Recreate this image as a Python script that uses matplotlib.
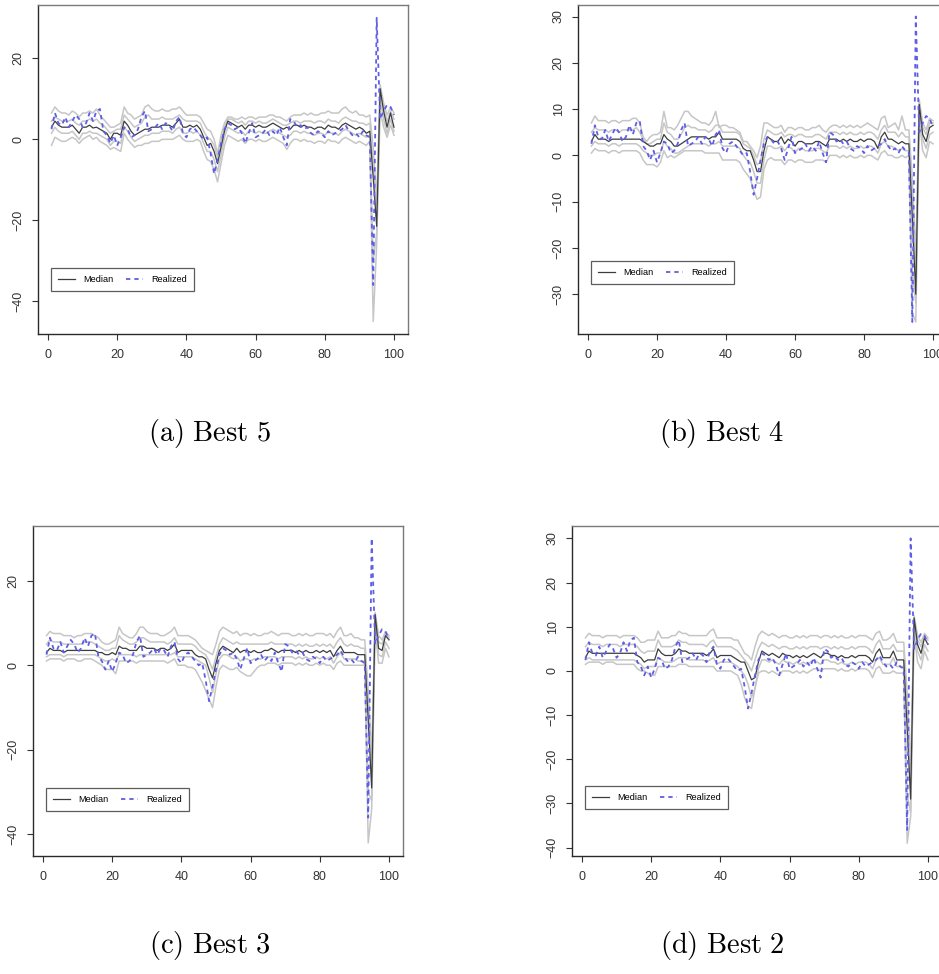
import numpy as np
import matplotlib
matplotlib.use("Agg")
import matplotlib.pyplot as plt
from matplotlib.lines import Line2D

plt.rcParams['font.family'] = ['Liberation Sans', 'DejaVu Sans']
plt.rcParams['mathtext.fontset'] = 'cm'

x = np.arange(1, 101)

# realized series (same in every panel)
realized = [2.5, 6.5, 4.0, 3.5, 5.5, 3.0, 4.5, 6.0, 5.0, 3.0,
            4.0, 6.5, 4.5, 7.0, 7.5, 2.0, 1.0, -1.0, 1.0, -1.5,
            0.5, 3.0, 2.5, 0.5, 1.0, 2.5, 5.5, 7.0, 2.0, 2.5,
            3.0, 4.0, 2.5, 4.0, 3.5, 2.0, 4.5, 5.5, 1.5, 0.5,
            2.5, 3.0, 2.0, 1.0, 0.0, 0.5, -3.5, -8.5, -5.0, -1.0,
            2.5, 4.0, 3.5, 2.5, 3.0, 1.5, -1.0, 1.5, 4.0, 0.5,
            1.0, 1.5, 2.5, 1.0, 2.0, 1.0, 3.0, 0.5, -1.5, 5.0,
            4.5, 3.0, 3.5, 2.5, 3.0, 1.5, 1.0, 2.0, 1.5, 0.5,
            2.0, 1.0, 1.5, 2.0, 2.5, 3.5, 2.0, 1.0, 1.5, 0.5,
            2.0, 1.0, 0.5, -36.0, 30.0, 5.0, 7.0, 8.5, 8.0, 6.0]

# (a) Best 5
med_a = [3.0, 4.5, 3.5, 3.0, 3.0, 3.0, 3.5, 2.5, 1.5, 3.0,
         3.0, 3.5, 2.8, 3.0, 2.5, 2.0, 1.5, 0.0, 1.5, 1.5,
         1.0, 4.5, 3.5, 2.0, 1.0, 1.5, 2.0, 2.5, 2.5, 3.0,
         3.0, 3.0, 3.5, 3.5, 3.5, 3.0, 4.0, 5.0, 3.0, 3.0,
         3.5, 3.0, 3.5, 2.5, 0.5, -1.5, -1.0, -3.0, -6.0, -2.0,
         2.0, 4.5, 4.0, 3.5, 3.0, 3.5, 2.5, 3.5, 3.5, 3.0,
         3.5, 3.0, 3.0, 3.5, 4.0, 3.5, 3.0, 2.5, 3.0, 2.5,
         3.5, 3.5, 3.0, 3.5, 3.0, 3.0, 2.5, 3.0, 3.0, 2.5,
         3.5, 3.0, 3.0, 2.5, 3.5, 4.0, 3.5, 3.0, 2.5, 3.0,
         2.5, 1.5, 2.0, -9.5, -21.5, 12.5, 7.0, 3.0, 6.5, 3.0]
hi2_a = [6.5, 8.0, 7.0, 6.5, 6.5, 6.0, 7.0, 6.5, 5.5, 6.5,
         6.5, 7.0, 6.5, 7.5, 6.0, 5.0, 4.0, 3.0, 3.0, 3.5,
         4.0, 8.0, 6.5, 6.0, 5.0, 5.5, 6.0, 8.0, 8.5, 7.5,
         7.0, 7.0, 7.5, 7.0, 7.0, 7.5, 7.5, 8.0, 7.0, 6.0,
         6.0, 6.0, 6.0, 5.5, 4.0, 2.5, 2.0, 0.0, -3.5, 1.0,
         4.0, 5.5, 5.5, 5.0, 5.0, 5.5, 5.0, 5.5, 5.5, 5.0,
         5.5, 5.5, 5.5, 6.0, 6.0, 5.5, 5.5, 5.0, 4.5, 5.5,
         6.0, 6.0, 6.0, 6.5, 6.0, 6.5, 6.0, 6.0, 6.5, 6.5,
         7.0, 6.5, 6.5, 6.5, 7.5, 8.0, 7.0, 6.5, 7.0, 6.0,
         6.0, 5.5, 6.0, -2.0, -15.0, 13.5, 9.0, 6.0, 8.0, 6.5]
hi1_a = [4.5, 5.5, 5.0, 4.5, 4.5, 4.5, 5.0, 4.0, 3.5, 4.5,
         4.5, 5.0, 4.5, 5.0, 4.0, 3.5, 2.5, 1.5, 2.0, 2.5,
         2.5, 6.0, 5.0, 4.0, 3.0, 3.5, 4.0, 5.5, 6.0, 5.0,
         5.0, 5.0, 5.5, 5.0, 5.0, 5.0, 5.5, 6.0, 5.0, 4.5,
         4.5, 4.5, 4.5, 4.0, 2.0, 0.5, 0.0, -1.5, -4.5, -0.5,
         3.0, 5.0, 5.0, 4.5, 4.0, 4.5, 3.5, 4.5, 4.5, 4.0,
         4.5, 4.0, 4.0, 4.5, 5.0, 4.5, 4.0, 3.5, 3.5, 4.0,
         4.5, 4.5, 4.0, 4.5, 4.5, 4.5, 4.0, 4.5, 4.5, 4.0,
         5.0, 4.5, 4.5, 4.0, 5.0, 5.5, 5.0, 4.5, 4.5, 4.0,
         4.0, 3.5, 4.0, -6.0, -19.0, 12.0, 8.0, 4.5, 7.0, 5.0]
lo1_a = [1.5, 3.0, 2.0, 1.5, 1.5, 1.5, 2.0, 1.0, 0.0, 1.5,
         1.5, 2.0, 1.5, 1.5, 1.0, 0.5, 0.0, -1.5, -0.5, -0.5,
         -1.0, 3.0, 2.0, 0.5, -0.5, 0.0, 0.5, 1.0, 1.0, 1.5,
         1.5, 1.5, 2.0, 2.0, 2.0, 1.5, 2.5, 3.0, 1.5, 1.5,
         2.0, 1.5, 2.0, 1.0, -1.0, -3.0, -3.0, -5.0, -8.0, -4.0,
         0.5, 3.0, 2.5, 2.0, 1.5, 2.0, 1.0, 2.0, 2.0, 1.5,
         2.0, 1.5, 1.5, 2.0, 2.5, 2.0, 1.5, 1.0, 0.5, 1.0,
         2.0, 2.0, 1.5, 2.0, 1.5, 1.5, 1.0, 1.5, 1.5, 1.0,
         2.0, 1.5, 1.5, 1.0, 2.0, 2.5, 2.0, 1.5, 1.0, 1.5,
         1.0, 0.5, 1.0, -30.0, -23.0, 10.0, 5.0, 1.5, 5.0, 2.0]
lo2_a = [-1.5, 0.5, 0.0, -0.5, -0.5, 0.0, 0.5, 0.0, -1.0, 0.0,
         0.5, 1.0, 0.0, 0.5, -0.5, -1.0, -1.5, -2.5, -2.0, -2.5,
         -3.0, 1.5, 0.0, -1.0, -2.0, -1.5, -1.5, -1.0, -1.0, -0.5,
         -0.5, -0.5, 0.0, 0.0, 0.0, 0.0, 0.5, 1.0, 0.0, -0.5,
         -0.5, -0.5, 0.0, -0.5, -3.0, -5.0, -5.5, -7.5, -10.5, -6.0,
         -1.5, 1.0, 0.5, 0.0, -0.5, 0.0, -1.0, 0.0, 0.0, -0.5,
         0.0, -0.5, -0.5, 0.0, 0.5, 0.0, -0.5, -1.0, -2.5, -1.0,
         0.0, 0.0, -0.5, 0.0, -0.5, -0.5, -1.0, -0.5, -0.5, -1.0,
         0.0, -0.5, -0.5, -1.0, 0.0, 0.5, 0.0, -0.5, -1.0, -0.5,
         -1.0, -1.5, -0.5, -45.0, -26.0, 7.0, 3.0, 0.5, 3.5, 1.0]

# (b) Best 4
med_b = [3.0, 4.5, 3.5, 3.5, 3.5, 3.0, 3.5, 3.5, 3.5, 3.5,
         3.5, 3.5, 3.5, 3.5, 3.5, 3.0, 2.5, 2.0, 2.0, 2.5,
         2.5, 4.5, 3.5, 3.0, 2.0, 2.0, 2.5, 3.0, 3.5, 4.0,
         4.0, 4.0, 4.0, 4.0, 3.5, 4.0, 4.0, 5.0, 3.5, 3.5,
         3.5, 3.5, 3.5, 3.0, 1.5, 1.0, 1.0, -1.0, -3.5, -3.5,
         1.0, 4.0, 3.5, 3.0, 3.0, 4.0, 2.5, 3.5, 3.0, 2.0,
         3.0, 3.0, 2.5, 2.5, 2.5, 3.0, 3.0, 2.5, 2.0, 3.5,
         3.5, 3.5, 3.0, 3.5, 3.0, 3.5, 3.0, 3.0, 3.5, 3.0,
         3.5, 3.5, 3.0, 1.5, 4.0, 5.0, 3.5, 3.5, 3.0, 2.5,
         3.0, 2.5, 2.5, -13.5, -30.0, 11.0, 4.5, 3.0, 6.0, 6.5]
hi2_b = [7.0, 8.5, 7.5, 7.5, 7.5, 7.0, 7.5, 7.5, 7.0, 7.5,
         7.5, 7.5, 8.0, 8.0, 7.0, 4.0, 3.0, 4.0, 4.5, 4.5,
         5.0, 9.5, 6.0, 6.0, 5.5, 6.5, 8.0, 9.5, 9.5, 8.5,
         8.0, 7.5, 7.0, 7.0, 6.5, 7.5, 9.5, 6.0, 6.5, 6.5,
         6.0, 6.0, 5.5, 5.0, 3.0, 3.0, 2.0, 1.0, -0.5, 2.0,
         7.0, 7.0, 6.5, 6.0, 6.0, 6.5, 5.0, 6.0, 6.0, 5.5,
         6.0, 6.0, 5.5, 5.5, 6.0, 6.0, 6.5, 5.5, 5.0, 6.0,
         6.5, 6.5, 6.0, 6.5, 6.0, 6.5, 6.0, 6.5, 6.0, 6.5,
         7.0, 6.5, 6.0, 5.5, 8.0, 8.5, 6.0, 6.5, 7.0, 5.5,
         8.5, 5.5, 5.5, -5.0, -22.0, 12.0, 7.0, 5.5, 8.0, 7.5]
hi1_b = [5.0, 6.0, 5.5, 5.5, 5.5, 5.0, 5.5, 5.5, 5.0, 5.5,
         5.5, 5.5, 5.5, 6.0, 5.0, 3.5, 2.5, 2.5, 3.0, 3.5,
         3.5, 7.0, 5.0, 4.5, 3.5, 3.5, 4.5, 6.0, 6.5, 6.0,
         6.0, 5.5, 5.5, 5.5, 5.0, 5.5, 6.5, 6.5, 5.0, 5.0,
         5.0, 5.0, 5.0, 4.5, 2.5, 2.0, 1.5, 0.0, -2.0, -1.5,
         3.5, 5.5, 5.0, 4.5, 4.5, 5.0, 4.0, 4.5, 4.5, 4.0,
         4.5, 4.5, 4.0, 4.0, 4.0, 4.5, 4.5, 4.0, 3.5, 5.0,
         5.0, 5.0, 4.5, 5.0, 4.5, 5.0, 4.5, 4.5, 5.0, 4.5,
         5.0, 5.0, 4.5, 3.5, 5.5, 6.5, 5.0, 5.0, 5.0, 4.0,
         5.0, 4.0, 4.0, -8.0, -26.0, 11.5, 6.0, 4.5, 7.0, 7.0]
lo1_b = [2.0, 3.0, 2.5, 2.5, 2.5, 2.0, 2.5, 2.5, 2.0, 2.5,
         2.5, 2.5, 2.5, 2.5, 2.0, 1.0, 0.5, 0.0, 0.0, 0.5,
         0.5, 3.0, 2.0, 1.5, 0.5, 0.5, 1.0, 1.5, 2.0, 2.5,
         2.5, 2.5, 2.5, 2.5, 2.0, 2.5, 2.5, 3.0, 2.0, 2.0,
         2.0, 2.0, 2.0, 1.5, 0.0, -1.0, -1.5, -3.5, -6.0, -6.0,
         -1.0, 2.0, 2.0, 1.5, 1.5, 2.0, 1.0, 2.0, 1.5, 0.5,
         1.5, 1.5, 1.0, 1.0, 1.0, 1.5, 1.5, 1.0, 0.5, 2.0,
         2.0, 2.0, 1.5, 2.0, 1.5, 2.0, 1.5, 1.5, 2.0, 1.5,
         2.0, 2.0, 1.5, 0.5, 2.5, 3.0, 2.0, 2.0, 1.5, 1.0,
         1.5, 1.0, 1.0, -25.0, -32.0, 10.0, 3.5, 1.5, 4.5, 5.0]
lo2_b = [0.5, 1.5, 1.0, 1.0, 1.0, 0.5, 1.0, 1.0, 0.5, 1.0,
         1.0, 1.0, 1.0, 1.0, 0.5, -1.0, -2.0, -2.0, -2.0, -2.5,
         -1.5, 1.0, -0.5, 0.0, -0.5, 0.0, 0.5, 1.0, 1.0, 1.0,
         1.0, 1.0, 1.0, 0.5, 0.5, 0.5, 0.5, 0.5, -1.0, -1.0,
         -1.0, -1.0, -1.0, -1.5, -3.0, -4.0, -5.0, -7.5, -9.5, -9.0,
         -3.0, -1.0, -0.5, -1.0, -1.0, -1.0, -2.0, -1.0, -1.0, -1.5,
         -1.0, -1.0, -1.5, -1.5, -1.5, -1.0, -1.0, -1.0, -1.5, 0.0,
         0.0, 0.0, -0.5, 0.0, -0.5, 0.0, -0.5, -0.5, 0.0, -0.5,
         0.0, 0.0, -0.5, -1.0, 0.5, 1.0, 0.0, 0.0, -0.5, -0.5,
         0.0, -0.5, 0.0, -34.0, -36.0, 8.0, 1.0, -0.5, 3.0, 2.5]

# (c) Best 3
med_c = [3.0, 4.0, 3.5, 3.5, 3.5, 3.0, 3.5, 3.5, 3.5, 3.5,
         3.5, 3.5, 3.5, 3.5, 3.5, 3.0, 3.0, 2.5, 2.5, 3.0,
         2.5, 4.5, 4.0, 4.0, 3.5, 3.5, 3.5, 4.5, 4.5, 4.0,
         4.0, 4.0, 3.5, 4.0, 4.0, 3.5, 4.0, 5.0, 3.0, 3.5,
         3.5, 3.5, 3.5, 2.5, 2.0, 2.0, 1.5, -1.0, -3.0, 0.5,
         3.5, 4.5, 4.0, 3.5, 3.0, 4.0, 3.0, 3.5, 3.5, 3.0,
         3.5, 3.0, 3.0, 3.5, 3.5, 4.0, 3.5, 3.0, 3.5, 3.5,
         3.5, 3.5, 3.0, 3.5, 3.0, 3.5, 3.0, 3.0, 3.5, 3.0,
         3.5, 3.0, 3.5, 2.0, 3.5, 4.5, 3.0, 3.0, 3.0, 3.0,
         2.5, 2.5, 2.5, -13.0, -29.0, 12.0, 4.0, 3.5, 7.0, 6.0]
hi2_c = [7.0, 8.0, 7.5, 7.5, 7.5, 7.0, 7.0, 7.0, 6.5, 7.0,
         7.0, 7.5, 7.5, 7.5, 7.0, 6.5, 5.5, 5.0, 5.0, 5.5,
         6.0, 9.0, 7.5, 7.0, 6.5, 6.5, 7.5, 9.0, 9.0, 8.0,
         7.5, 7.5, 7.5, 7.0, 7.0, 7.5, 8.0, 9.0, 7.0, 7.0,
         7.0, 7.0, 6.5, 6.0, 5.0, 4.0, 3.5, 3.0, 2.5, 5.0,
         8.0, 9.0, 8.5, 8.0, 7.5, 8.0, 7.0, 7.5, 7.5, 7.0,
         7.5, 7.0, 7.0, 7.5, 7.5, 8.0, 7.5, 7.0, 7.5, 7.5,
         7.5, 7.0, 7.0, 7.5, 7.0, 7.5, 7.0, 7.0, 7.5, 7.5,
         7.5, 7.0, 7.5, 6.5, 8.0, 9.0, 7.0, 7.0, 7.5, 6.5,
         6.5, 6.0, 6.0, -6.0, -22.0, 12.5, 7.0, 6.0, 8.0, 7.0]
hi1_c = [5.0, 6.0, 5.5, 5.5, 5.5, 5.0, 5.0, 5.0, 5.0, 5.0,
         5.0, 5.5, 5.5, 5.5, 5.0, 4.5, 4.0, 3.5, 3.5, 4.0,
         4.0, 7.0, 6.0, 5.5, 5.0, 5.0, 5.5, 6.5, 6.5, 6.0,
         5.5, 5.5, 5.5, 5.5, 5.5, 5.0, 5.5, 6.5, 5.0, 5.0,
         5.0, 5.0, 5.0, 4.5, 3.5, 3.0, 2.5, 1.0, -1.0, 2.0,
         5.0, 6.5, 6.0, 5.5, 5.0, 5.5, 5.0, 5.0, 5.0, 5.0,
         5.0, 5.0, 5.0, 5.0, 5.0, 5.5, 5.0, 5.0, 5.0, 5.0,
         5.0, 5.0, 4.5, 5.0, 4.5, 5.0, 4.5, 4.5, 5.0, 4.5,
         5.0, 4.5, 5.0, 4.0, 5.5, 6.5, 5.0, 4.5, 5.0, 4.5,
         4.5, 4.0, 4.0, -9.0, -25.0, 12.0, 5.5, 5.0, 7.5, 6.5]
lo1_c = [2.0, 2.5, 2.5, 2.5, 2.5, 2.0, 2.5, 2.5, 2.5, 2.5,
         2.5, 2.5, 2.5, 2.5, 2.5, 2.0, 1.5, 1.0, 1.0, 1.5,
         1.0, 2.5, 2.5, 2.5, 2.5, 2.5, 2.0, 2.5, 2.5, 2.5,
         2.5, 2.5, 2.5, 2.5, 2.5, 2.5, 2.5, 3.0, 2.0, 2.0,
         2.0, 2.0, 2.0, 1.5, 1.0, 0.5, 0.0, -3.0, -6.5, -2.0,
         1.5, 2.5, 2.5, 2.0, 1.5, 2.0, 1.0, 1.5, 1.5, 1.0,
         1.5, 1.5, 1.5, 2.0, 2.0, 2.0, 2.0, 1.5, 2.0, 2.0,
         2.0, 2.0, 1.5, 2.0, 1.5, 2.0, 1.5, 1.5, 2.0, 1.5,
         2.0, 1.5, 2.0, 0.5, 2.0, 3.0, 1.5, 1.5, 1.5, 1.5,
         1.0, 1.0, 1.0, -30.0, -32.0, 10.0, 2.5, 2.0, 5.5, 4.0]
lo2_c = [1.0, 1.5, 1.5, 1.5, 1.5, 1.0, 1.5, 1.5, 1.5, 1.0,
         1.0, 1.5, 1.5, 1.5, 1.0, 0.5, 0.0, -1.0, -1.0, -1.0,
         -2.0, 1.0, 1.0, 1.0, 1.0, 1.0, 0.5, 1.0, 1.0, 1.0,
         1.0, 1.0, 1.0, 1.0, 1.0, 0.5, 1.0, 1.5, 0.0, 0.0,
         0.0, -0.5, -0.5, -1.0, -2.5, -4.0, -6.0, -8.0, -10.0, -5.0,
         -1.0, 0.0, -0.5, -1.0, -1.0, -0.5, -1.5, -2.0, -2.5, -2.5,
         -1.5, -0.5, 0.0, 0.0, 0.5, 0.5, 0.5, 0.0, 0.5, 0.5,
         0.5, 0.5, 0.0, 0.5, 0.0, 0.5, 0.0, 0.0, 0.5, 0.0,
         0.5, 0.0, 0.0, -1.0, 0.5, 1.0, 0.0, 0.0, 0.0, 0.0,
         0.0, 0.0, 0.0, -42.0, -34.0, 8.5, 0.5, 0.5, 4.0, 2.0]

# (d) Best 2
med_d = [3.0, 4.5, 4.0, 4.0, 4.0, 4.0, 4.0, 4.0, 4.0, 4.0,
         4.0, 4.0, 4.0, 4.0, 4.0, 3.5, 3.0, 2.0, 2.5, 2.5,
         2.5, 5.0, 4.0, 3.5, 3.5, 3.5, 4.0, 5.0, 4.5, 4.5,
         4.0, 4.0, 4.0, 4.0, 4.0, 3.5, 4.0, 5.0, 3.0, 3.5,
         3.5, 3.5, 3.5, 3.0, 2.5, 2.0, 2.0, 0.0, -2.0, -1.5,
         2.0, 4.5, 4.0, 3.5, 4.0, 3.5, 3.0, 4.0, 3.5, 3.5,
         3.0, 3.5, 3.0, 3.5, 3.0, 3.5, 4.0, 3.5, 3.0, 4.0,
         4.0, 3.5, 3.5, 3.0, 3.5, 3.0, 3.0, 3.5, 3.0, 3.5,
         3.5, 3.5, 3.0, 2.0, 4.0, 5.0, 3.0, 3.0, 3.0, 4.5,
         2.5, 2.5, 2.5, -13.0, -29.0, 12.0, 6.0, 4.0, 7.5, 6.0]
hi2_d = [7.5, 8.5, 8.0, 8.0, 8.0, 7.5, 8.0, 8.0, 8.0, 8.0,
         7.5, 8.0, 8.0, 8.0, 8.0, 7.5, 6.5, 6.5, 7.0, 7.0,
         7.0, 9.0, 7.5, 7.5, 7.5, 8.0, 8.0, 9.0, 8.5, 8.5,
         8.0, 8.0, 8.0, 8.0, 8.0, 8.0, 9.0, 9.5, 7.5, 7.5,
         7.5, 7.5, 7.5, 7.0, 7.0, 5.5, 4.0, 3.5, 2.5, 5.5,
         8.0, 9.0, 8.5, 8.0, 8.5, 8.0, 7.5, 8.0, 8.0, 7.5,
         7.5, 8.0, 7.5, 8.0, 7.5, 8.0, 8.0, 8.0, 7.5, 8.0,
         8.0, 7.5, 8.0, 7.5, 8.0, 7.5, 7.5, 8.0, 7.5, 8.0,
         8.0, 8.0, 7.5, 7.0, 8.5, 9.0, 7.0, 7.0, 7.5, 8.5,
         6.5, 6.5, 6.5, -5.0, -22.0, 12.5, 8.0, 6.5, 8.5, 7.5]
hi1_d = [5.5, 6.5, 6.0, 6.0, 6.0, 5.5, 6.0, 6.0, 6.0, 6.0,
         5.5, 6.0, 6.0, 6.0, 6.0, 5.5, 4.5, 4.0, 4.5, 4.5,
         4.5, 7.0, 5.5, 5.5, 5.5, 5.5, 6.0, 7.0, 6.5, 6.5,
         6.0, 6.0, 6.0, 6.0, 6.0, 5.5, 6.5, 7.0, 5.5, 5.5,
         5.5, 5.5, 5.5, 5.0, 4.5, 3.5, 2.5, 1.5, 0.0, 2.5,
         5.0, 6.5, 6.0, 5.5, 6.0, 5.5, 5.0, 5.5, 5.5, 5.0,
         5.0, 5.5, 5.0, 5.5, 5.0, 5.5, 5.5, 5.5, 5.0, 5.5,
         5.5, 5.0, 5.5, 5.0, 5.5, 5.0, 5.0, 5.5, 5.0, 5.5,
         5.5, 5.5, 5.0, 4.0, 6.0, 7.0, 5.0, 5.0, 5.0, 6.0,
         4.5, 4.5, 4.5, -8.0, -25.0, 12.0, 7.0, 5.5, 8.0, 7.0]
lo1_d = [2.5, 3.0, 2.5, 2.5, 2.5, 2.5, 2.5, 2.5, 2.5, 2.5,
         2.5, 2.5, 2.5, 2.5, 2.5, 2.0, 1.5, 0.5, 1.0, 1.0,
         1.0, 3.0, 2.5, 2.0, 2.0, 2.0, 2.5, 3.0, 3.0, 3.0,
         2.5, 2.5, 2.5, 2.5, 2.5, 2.0, 2.5, 3.0, 1.5, 2.0,
         2.0, 2.0, 2.0, 1.5, 1.0, 0.0, -1.0, -3.0, -6.0, -4.0,
         0.5, 2.5, 2.5, 2.0, 2.5, 2.0, 1.5, 2.5, 2.0, 2.0,
         1.5, 2.0, 1.5, 2.0, 1.5, 2.0, 2.5, 2.0, 1.5, 2.5,
         2.5, 2.0, 2.0, 1.5, 2.0, 1.5, 1.5, 2.0, 1.5, 2.0,
         2.0, 2.0, 1.5, 0.5, 2.5, 3.0, 1.5, 1.5, 1.5, 3.0,
         1.0, 1.0, 1.0, -28.0, -32.0, 10.0, 4.5, 2.5, 6.0, 4.5]
lo2_d = [1.5, 2.0, 2.0, 2.0, 2.0, 1.5, 2.0, 2.0, 2.0, 1.5,
         1.5, 1.5, 1.5, 1.5, 1.5, 0.5, 0.0, 0.0, -0.5, -1.0,
         -1.0, 1.0, 1.0, 1.0, 1.0, 1.0, 1.0, 1.5, 1.5, 1.5,
         1.0, 1.0, 1.0, 1.0, 1.0, 1.0, 1.0, 1.0, 0.0, 0.0,
         0.0, 0.0, 0.0, -0.5, -1.0, -3.0, -6.0, -8.0, -8.5, -4.0,
         -0.5, 0.0, 0.0, -0.5, 0.0, -0.5, -1.0, 0.0, 0.0, 0.0,
         -0.5, 0.0, -0.5, 0.0, -0.5, 0.0, 0.5, 0.5, 0.0, 0.5,
         0.5, 0.5, 0.5, 0.0, 0.5, 0.0, 0.0, 0.5, 0.0, 0.5,
         0.5, 0.5, 0.0, -1.5, 0.5, 1.0, -0.5, -0.5, -0.5, 0.0,
         -0.5, -0.5, -0.5, -39.0, -33.0, 8.5, 2.0, 0.5, 4.5, 2.5]

captions = ["(a) Best 5", "(b) Best 4", "(c) Best 3", "(d) Best 2"]
yticks_list = [[-40, -20, 0, 20], [-30, -20, -10, 0, 10, 20, 30],
               [-40, -20, 0, 20], [-40, -30, -20, -10, 0, 10, 20, 30]]

W, H = 939, 974
fig = plt.figure(figsize=(W / 100, H / 100), dpi=100)

GRAY = '#c6c6c6'
MED = '#3c3c3c'
BLUE = '#5e5ee6'


def draw_panel(rect, bands, med, ylim, yticks, leg_xy):
    ax = fig.add_axes(rect)
    for b in bands:
        ax.plot(x, b, color=GRAY, lw=1.1, zorder=1)
    ax.plot(x, med, color=MED, lw=0.9, zorder=2)
    ax.plot(x, realized, color=BLUE, lw=1.3, ls=(0, (2.4, 2.2)), zorder=3)
    ax.set_xlim(-2.96, 103.96)
    ax.set_ylim(*ylim)
    ax.set_xticks([0, 20, 40, 60, 80, 100])
    ax.set_yticks(yticks)
    ax.tick_params(axis='both', direction='out', length=4.5, width=0.8,
                   colors='#333333', labelsize=9)
    ax.tick_params(axis='x', pad=6.5)
    ax.tick_params(axis='y', pad=5)
    for lab in ax.get_yticklabels():
        lab.set_rotation(90)
        lab.set_va('center')
    for side in ['left', 'bottom']:
        ax.spines[side].set_color('#2a2a2a')
        ax.spines[side].set_linewidth(1.0)
    for side in ['top', 'right']:
        ax.spines[side].set_color('#7a7a7a')
        ax.spines[side].set_linewidth(1.0)
    handles = [Line2D([], [], color=MED, lw=0.9),
               Line2D([], [], color=BLUE, lw=1.3, ls=(0, (2.4, 2.2)))]
    leg = ax.legend(handles, ['Median', 'Realized'], ncol=2, loc='lower left',
                    bbox_to_anchor=leg_xy, borderaxespad=0, fontsize=6.6,
                    fancybox=False, handlelength=1.85, handletextpad=0.9,
                    columnspacing=1.45, borderpad=0.75)
    leg.get_frame().set_edgecolor('#333333')
    leg.get_frame().set_linewidth(0.9)
    return ax


draw_panel([0.04026, 0.6571, 0.3939, 0.3378], [hi2_a, hi1_a, lo1_a, lo2_a], med_a,
           (-48.1, 33.2), yticks_list[0], (0.035, 0.13))
draw_panel([0.6153, 0.6571, 0.3929, 0.3378], [hi2_b, hi1_b, lo1_b, lo2_b], med_b,
           (-38.6, 32.5), yticks_list[1], (0.035, 0.152))
draw_panel([0.03493, 0.1211, 0.3939, 0.3388], [hi2_c, hi1_c, lo1_c, lo2_c], med_c,
           (-45.1, 32.9), yticks_list[2], (0.035, 0.136))
draw_panel([0.6089, 0.1211, 0.3939, 0.3388], [hi2_d, hi1_d, lo1_d, lo2_d], med_d,
           (-41.9, 32.8), yticks_list[3], (0.035, 0.142))

cap_pos = [(209.5, 434), (722, 434), (209.5, 946), (722, 946)]
for (cx, cy), cap in zip(cap_pos, captions):
    txt = r'$\mathrm{' + cap.replace(' ', r'\ ') + '}$'
    fig.text(cx / W, 1 - cy / H, txt, fontsize=20.5, ha='center', va='center')

fig.savefig('out.png', dpi=100)
